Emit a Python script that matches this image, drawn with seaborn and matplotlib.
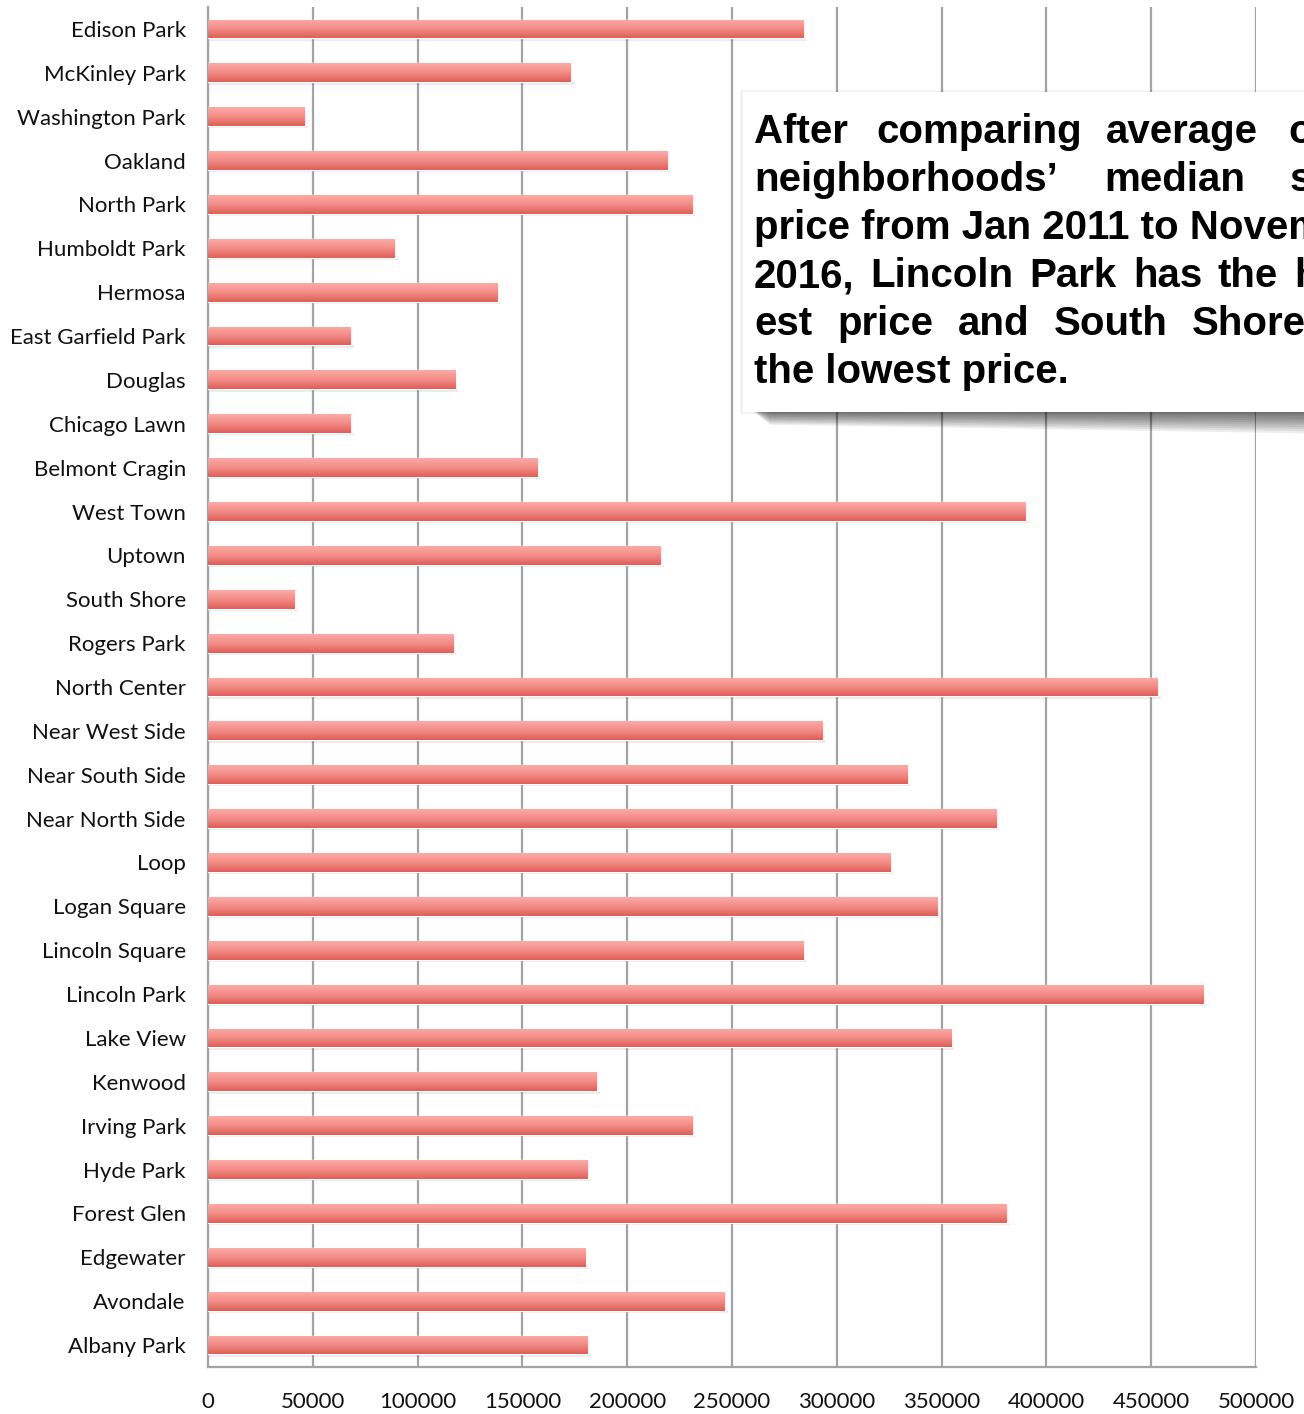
import numpy as np
import pandas as pd
import matplotlib.pyplot as plt
import seaborn as sns
from matplotlib.patches import Rectangle, Polygon
from matplotlib.colors import LinearSegmentedColormap

# Données : prix médian moyen par quartier
quartiers = ['Edison Park', 'McKinley Park', 'Washington Park', 'Oakland', 'North Park',
             'Humboldt Park', 'Hermosa', 'East Garfield Park', 'Douglas', 'Chicago Lawn',
             'Belmont Cragin', 'West Town', 'Uptown', 'South Shore', 'Rogers Park',
             'North Center', 'Near West Side', 'Near South Side', 'Near North Side', 'Loop',
             'Logan Square', 'Lincoln Square', 'Lincoln Park', 'Lake View', 'Kenwood',
             'Irving Park', 'Hyde Park', 'Forest Glen', 'Edgewater', 'Avondale', 'Albany Park']
prix_median = [284000, 173000, 46000, 219000, 231000,
               89000, 138000, 68000, 118000, 68000,
               157000, 390000, 216000, 41500, 117000,
               453000, 293000, 333500, 376000, 325500,
               348000, 284000, 475000, 354500, 185500,
               231000, 181000, 381000, 180000, 246500, 181000]
graduations = list(range(0, 500001, 50000))

# Texte du commentaire (lignes justifiées, coupées au bord droit)
lignes_texte = [
    [('After', 754), ('comparing', 876), ('average', 1106), ('of', 1288)],
    [('neighborhoods\u2019', 754), ('median', 1104), ('sale', 1290)],
    [('price from Jan 2011 to November', 754)],
    [('2016,', 754), ('Lincoln', 870), ('Park', 1029), ('has', 1133), ('the', 1218), ('highest', 1294)],
    [('est', 754), ('price', 837), ('and', 958), ('South', 1054), ('Shore', 1192)],
    [('the lowest price.', 754)],
]

W, H = 1304, 1414
sns.set_theme(style='white')
plt.rcParams['font.family'] = ['Lato', 'DejaVu Sans']

fig = plt.figure(figsize=(W / 100, H / 100), dpi=100)
ax = fig.add_axes([208 / W, 1 - 1367 / H, (1256 - 208) / W, (1367 - 7) / H])

df = pd.DataFrame({'quartier': quartiers, 'prix': prix_median})
sns.barplot(data=df, x='prix', y='quartier', orient='h', color='#ee7b76',
            width=0.43, ax=ax, zorder=3)

ax.set_xlim(0, 500000)
xlim, ylim = ax.get_xlim(), ax.get_ylim()

# Dégradé vertical dans chaque barre
degrade = np.linspace(0, 1, 64).reshape(-1, 1)
cmap = LinearSegmentedColormap.from_list('barre', ['#fcaaa6', '#f28b86', '#df5f58'])
for p in ax.patches:
    x0, y0, w, h = p.get_x(), p.get_y(), p.get_width(), p.get_height()
    # petite ombre sous la barre
    ax.add_patch(Rectangle((x0, y0 + h), w + 1500, h * 0.12, facecolor='#000000',
                           alpha=0.08, edgecolor='none', zorder=2))
    im = ax.imshow(degrade, cmap=cmap, aspect='auto', origin='upper',
                   extent=(x0, x0 + w, y0 + h, y0), zorder=4)
    im.set_clip_path(p)
ax.set_xlim(xlim)
ax.set_ylim(ylim)

# Axes et grille
ax.set_xticks(graduations)
ax.set_xticklabels([str(g) for g in graduations])
ax.xaxis.grid(True, color='#a3a3a3', linewidth=1.6)
ax.yaxis.grid(False)
ax.set_axisbelow(True)
for cote in ['top', 'right']:
    ax.spines[cote].set_visible(False)
for cote in ['left', 'bottom']:
    ax.spines[cote].set_color('#a3a3a3')
    ax.spines[cote].set_linewidth(1.6)
ax.tick_params(axis='both', length=0, labelsize=16, colors='#111111')
ax.tick_params(axis='x', pad=18)
ax.tick_params(axis='y', pad=16)
ax.set_xlabel('')
ax.set_ylabel('')

# Encadré de commentaire avec ombre
for k in range(10):
    ombre = Polygon([(745 / W, 1 - 405 / H),
                     (1.02, 1 - 405 / H),
                     (1.02, 1 - (414 + 2.2 * k) / H),
                     (770 / W, 1 - (413 + 1.3 * k) / H)],
                    closed=True, transform=fig.transFigure, facecolor='#000000',
                    alpha=0.07, edgecolor='none', zorder=9)
    fig.add_artist(ombre)
fig.add_artist(Rectangle((740 / W, 1 - 414 / H), 0.5, 324 / H, transform=fig.transFigure,
                         facecolor='#000000', alpha=0.05, edgecolor='none', zorder=9))
fig.add_artist(Rectangle((743 / W, 1 - 412 / H), 0.5, (412 - 92) / H, transform=fig.transFigure,
                         facecolor='white', edgecolor='none', zorder=10))

for i, ligne in enumerate(lignes_texte):
    base = 143 + 48 * i
    for mot, xpix in ligne:
        fig.text(xpix / W, 1 - base / H, mot, fontsize=29, fontweight='bold',
                 family=['Liberation Sans', 'DejaVu Sans'], va='baseline', ha='left',
                 color='black', zorder=11)

fig.savefig('out.png', dpi=100)
